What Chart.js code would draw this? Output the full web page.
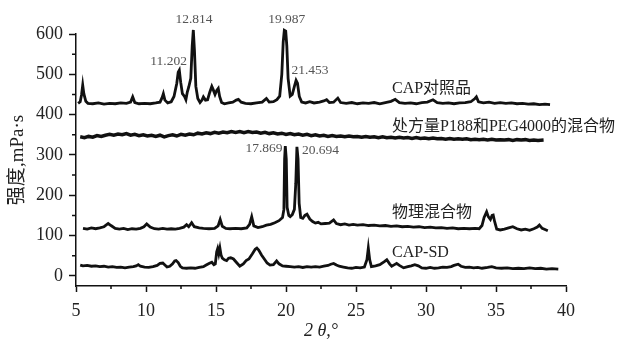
<!DOCTYPE html>
<html>
<head>
<meta charset="utf-8">
<script src="https://cdn.jsdelivr.net/npm/chart.js"></script>
<style>
  body { margin: 0; background: #fff; }
  #wrap { width: 622px; height: 340px; }
</style>
</head>
<body>
<div id="wrap"><canvas id="myChart" width="622" height="340"></canvas></div>
<script>
// tick values
var xTicks = [5, 10, 15, 20, 25, 30, 35, 40];
var yTicks = [0, 100, 200, 300, 400, 500, 600];

// series names
var names = ['CAP对照品', '处方量P188和PEG4000的混合物', '物理混合物', 'CAP-SD'];

// CAP reference  [2theta, intensity]
var capRef = [[5.15,428],[5.3,432],[5.4,450],[5.48,473],[5.56,452],[5.7,433],[5.85,428],[6.2,427],[6.6,429],[7.0,426],[7.4,428],[7.8,427],[8.2,429],[8.6,428],[8.9,431],[9.05,444],[9.2,430],[9.5,427],[9.9,428],[10.3,427],[10.7,429],[11.0,431],[11.15,442],[11.24,452],[11.35,436],[11.55,429],[11.8,432],[12.0,445],[12.2,478],[12.3,505],[12.38,510],[12.48,480],[12.6,452],[12.75,445],[12.85,437],[12.95,456],[13.05,468],[13.2,490],[13.3,570],[13.38,610],[13.46,560],[13.56,470],[13.7,440],[13.86,430],[14.0,436],[14.1,444],[14.25,436],[14.4,437],[14.55,455],[14.7,470],[14.8,462],[14.93,450],[15.05,460],[15.16,465],[15.26,445],[15.4,430],[15.6,427],[15.9,429],[16.2,431],[16.45,436],[16.6,438],[16.8,431],[17.1,428],[17.5,427],[17.9,429],[18.3,431],[18.6,440],[18.8,431],[19.1,432],[19.35,437],[19.55,446],[19.7,500],[19.8,580],[19.88,609],[19.98,607],[20.06,570],[20.15,490],[20.3,446],[20.45,450],[20.6,470],[20.72,485],[20.82,478],[20.95,445],[21.12,431],[21.4,429],[21.7,432],[22.0,429],[22.4,431],[22.7,434],[22.9,437],[23.1,430],[23.4,431],[23.7,441],[23.9,430],[24.3,428],[24.7,430],[25.1,427],[25.5,429],[25.9,428],[26.3,430],[26.7,427],[27.1,430],[27.5,433],[27.8,438],[28.1,430],[28.5,428],[28.9,429],[29.3,427],[29.7,430],[30.1,431],[30.5,437],[30.8,430],[31.2,428],[31.6,429],[32.0,427],[32.4,429],[32.8,430],[33.2,432],[33.5,440],[33.6,444],[33.75,432],[34.1,429],[34.5,431],[34.9,428],[35.3,430],[35.7,428],[36.1,429],[36.5,427],[36.9,428],[37.3,426],[37.7,427],[38.1,425],[38.5,426],[38.86,425]];

// P188 + PEG4000 blank mixture
var blankMix = [[5.3,345],[5.6,343],[5.9,346],[6.2,344],[6.5,348],[6.8,346],[7.1,349],[7.4,351],[7.7,349],[8.0,352],[8.3,350],[8.6,353],[8.9,349],[9.2,351],[9.5,348],[9.8,350],[10.1,347],[10.4,349],[10.7,346],[11.0,349],[11.3,345],[11.6,348],[11.9,350],[12.2,347],[12.5,351],[12.8,349],[13.1,352],[13.4,350],[13.7,354],[14.0,352],[14.3,355],[14.6,353],[14.9,356],[15.2,354],[15.5,357],[15.8,355],[16.1,358],[16.4,356],[16.7,358],[17.0,355],[17.3,358],[17.6,356],[17.9,357],[18.2,354],[18.5,356],[18.8,353],[19.1,355],[19.4,352],[19.7,354],[20.0,351],[20.3,353],[20.6,350],[20.9,352],[21.2,349],[21.5,351],[21.8,348],[22.1,350],[22.4,347],[22.7,349],[23.0,346],[23.3,348],[23.6,346],[23.9,347],[24.2,345],[24.5,347],[24.8,345],[25.1,346],[25.4,344],[25.7,346],[26.0,344],[26.3,345],[26.6,343],[26.9,345],[27.2,343],[27.5,344],[27.8,342],[28.1,344],[28.4,342],[28.7,343],[29.0,341],[29.3,343],[29.6,341],[29.9,342],[30.2,340],[30.5,342],[30.8,340],[31.1,341],[31.4,339],[31.7,341],[32.0,339],[32.3,340],[32.6,339],[32.9,340],[33.2,338],[33.5,339],[33.8,338],[34.1,339],[34.4,337],[34.7,339],[35.0,337],[35.3,338],[35.6,337],[35.9,338],[36.2,336],[36.5,338],[36.8,337],[37.1,338],[37.4,336],[37.7,337],[38.0,336],[38.4,337]];

// physical mixture
var physMix = [[5.5,118],[5.8,116],[6.1,119],[6.4,117],[6.7,119],[7.0,122],[7.3,130],[7.5,125],[7.8,118],[8.1,116],[8.4,118],[8.7,115],[9.0,117],[9.3,116],[9.6,118],[9.85,122],[10.05,129],[10.3,121],[10.6,117],[10.9,116],[11.2,118],[11.5,116],[11.8,117],[12.1,116],[12.4,118],[12.7,121],[12.9,127],[13.05,122],[13.26,132],[13.45,122],[13.8,119],[14.1,118],[14.5,117],[14.9,118],[15.15,124],[15.3,140],[15.45,123],[15.7,118],[16.0,117],[16.4,118],[16.8,117],[17.2,119],[17.4,128],[17.55,147],[17.7,124],[18.0,120],[18.3,122],[18.6,126],[18.9,128],[19.2,132],[19.5,137],[19.75,145],[19.85,165],[19.9,290],[19.95,322],[20.02,290],[20.08,170],[20.2,150],[20.3,147],[20.45,152],[20.6,165],[20.7,230],[20.78,320],[20.86,290],[20.94,180],[21.05,145],[21.2,143],[21.35,150],[21.5,153],[21.7,141],[21.9,135],[22.1,131],[22.3,133],[22.5,129],[22.8,130],[23.1,131],[23.4,139],[23.6,130],[23.9,127],[24.2,129],[24.5,126],[24.8,128],[25.1,126],[25.5,127],[25.9,125],[26.3,126],[26.7,124],[27.1,125],[27.5,123],[27.9,124],[28.3,122],[28.7,123],[29.1,121],[29.5,122],[29.9,120],[30.3,121],[30.7,119],[31.1,120],[31.5,118],[31.9,119],[32.3,117],[32.7,118],[33.1,117],[33.5,118],[33.8,117],[34.0,125],[34.15,145],[34.33,159],[34.45,147],[34.6,140],[34.72,150],[34.8,151],[34.9,135],[35.05,116],[35.3,114],[35.6,116],[35.9,119],[36.2,122],[36.5,117],[36.8,114],[37.1,116],[37.4,113],[37.7,117],[37.95,121],[38.1,126],[38.3,118],[38.5,115],[38.7,112]];

// CAP solid dispersion
var capSD = [[5.3,27],[5.5,25],[5.8,26],[6.1,24],[6.4,25],[6.7,23],[7.0,24],[7.3,22],[7.6,23],[7.9,21],[8.2,22],[8.5,20],[8.8,22],[9.1,23],[9.3,25],[9.45,28],[9.6,24],[9.9,22],[10.2,21],[10.5,23],[10.8,26],[11.0,31],[11.2,32],[11.35,27],[11.5,22],[11.7,24],[11.9,30],[12.05,37],[12.15,38],[12.3,33],[12.45,24],[12.6,20],[12.9,19],[13.2,20],[13.5,19],[13.8,21],[14.1,23],[14.3,27],[14.5,31],[14.7,34],[14.85,28],[14.95,30],[15.05,60],[15.12,68],[15.2,55],[15.28,69],[15.36,52],[15.45,44],[15.6,40],[15.76,38],[15.9,44],[16.05,45],[16.25,42],[16.45,34],[16.7,24],[16.95,30],[17.15,38],[17.35,42],[17.6,55],[17.8,66],[17.92,69],[18.05,64],[18.25,52],[18.45,42],[18.65,32],[18.86,27],[19.1,28],[19.33,37],[19.5,30],[19.75,25],[20.0,24],[20.3,23],[20.6,22],[20.9,23],[21.2,21],[21.5,23],[21.8,22],[22.1,23],[22.4,22],[22.7,24],[23.0,26],[23.2,29],[23.4,31],[23.6,27],[23.8,24],[24.1,22],[24.4,20],[24.7,19],[25.0,21],[25.3,20],[25.6,22],[25.78,40],[25.88,69],[25.98,40],[26.1,23],[26.4,25],[26.7,28],[27.0,35],[27.2,40],[27.4,30],[27.55,24],[27.75,28],[27.9,31],[28.1,26],[28.4,20],[28.7,23],[28.95,25],[29.2,28],[29.45,25],[29.7,20],[30.0,19],[30.3,21],[30.6,19],[30.9,20],[31.2,22],[31.5,21],[31.8,23],[32.0,26],[32.3,29],[32.5,24],[32.8,21],[33.1,22],[33.4,20],[33.7,21],[34.0,19],[34.4,21],[34.7,23],[35.0,20],[35.4,19],[35.8,20],[36.2,18],[36.6,19],[37.0,18],[37.4,20],[37.8,18],[38.2,19],[38.6,17],[39.0,18],[39.45,17]];

var serif = "'Liberation Serif','Noto Sans CJK SC',serif";

// peak labels and series labels, placed in data units
var textPlugin = {
    id: 'texts',
    afterDatasetsDraw: function(chart){
        var ctx = chart.ctx, xs = chart.scales.x, ys = chart.scales.y;
        var peaks = [['12.814',13.43,636],['19.987',20.05,636],['11.202',11.62,532],['21.453',21.71,510],['17.869',18.43,316],['20.694',22.46,312]];
        var tags = [[names[0],27.57,465],[names[1],27.57,371],[names[2],27.57,156],[names[3],27.57,57]];
        ctx.save();
        ctx.textBaseline = 'middle';
        ctx.fillStyle = '#555';
        ctx.textAlign = 'center';
        ctx.font = '13.5px ' + serif;
        peaks.forEach(function(p){
            ctx.fillText(p[0], xs.getPixelForValue(p[1]), ys.getPixelForValue(p[2]));
        });
        ctx.fillStyle = '#222';
        ctx.textAlign = 'left';
        ctx.font = '16px ' + serif;
        tags.forEach(function(t){
            ctx.fillText(t[0], xs.getPixelForValue(t[1]), ys.getPixelForValue(t[2]));
        });
        ctx.restore();
    }
};

// small ticks halfway between the labelled ones
var minorPlugin = {
    id: 'minor',
    afterDraw: function(chart){
        var ctx = chart.ctx, xs = chart.scales.x, ys = chart.scales.y;
        ctx.save();
        ctx.strokeStyle = '#111';
        ctx.lineWidth = 1.5;
        ctx.beginPath();
        for (var i = 0; i < xTicks.length - 1; i++) {
            var px = xs.getPixelForValue((xTicks[i] + xTicks[i+1]) / 2);
            ctx.moveTo(px, xs.top);
            ctx.lineTo(px, xs.top + 3);
        }
        for (var j = 0; j < yTicks.length - 1; j++) {
            var py = ys.getPixelForValue((yTicks[j] + yTicks[j+1]) / 2);
            ctx.moveTo(ys.right - 4, py);
            ctx.lineTo(ys.right, py);
        }
        ctx.stroke();
        ctx.restore();
    }
};

function series(data, w){
    return {
        data: data,
        borderColor: '#111',
        borderWidth: w,
        pointRadius: 0,
        tension: 0,
        fill: false,
        clip: false
    };
}

var ctx = document.getElementById('myChart').getContext('2d');
var chart = new Chart(ctx, {
    type: 'line',
    data: {
        datasets: [series(capRef, 2.8), series(blankMix, 3.5), series(physMix, 2.8), series(capSD, 2.8)]
    },
    plugins: [textPlugin, minorPlugin],
    options: {
        responsive: false,
        animation: false,
        layout: { padding: { left: 0, right: 56, top: 34, bottom: 0 } },
        plugins: { legend: { display: false }, tooltip: { enabled: false } },
        scales: {
            x: {
                type: 'linear',
                min: 5,
                max: 40,
                afterFit: function(s){ s.height = 54; },
                afterBuildTicks: function(s){ s.ticks = xTicks.map(function(v){ return { value: v }; }); },
                grid: { drawOnChartArea: false, tickLength: 6, tickColor: '#111', tickWidth: 1.5 },
                border: { color: '#111', width: 1.5 },
                ticks: { color: '#222', padding: 8, maxRotation: 0, font: { family: serif, size: 18 } },
                title: { display: true, text: '2 θ,°', color: '#222', padding: { top: 0, bottom: -2 }, font: { family: serif, size: 18, style: 'italic' } }
            },
            y: {
                min: -25,
                max: 600,
                afterFit: function(s){ s.width = 76; },
                afterBuildTicks: function(s){ s.ticks = yTicks.map(function(v){ return { value: v }; }); },
                grid: { drawOnChartArea: false, tickLength: 7, tickColor: '#111', tickWidth: 1.5 },
                border: { color: '#111', width: 1.5 },
                ticks: { color: '#222', padding: 6, font: { family: serif, size: 18 } },
                title: { display: true, text: '强度,mPa·s', color: '#222', padding: { top: 7, bottom: 0 }, font: { family: serif, size: 19 } }
            }
        }
    }
});
</script>
</body>
</html>
